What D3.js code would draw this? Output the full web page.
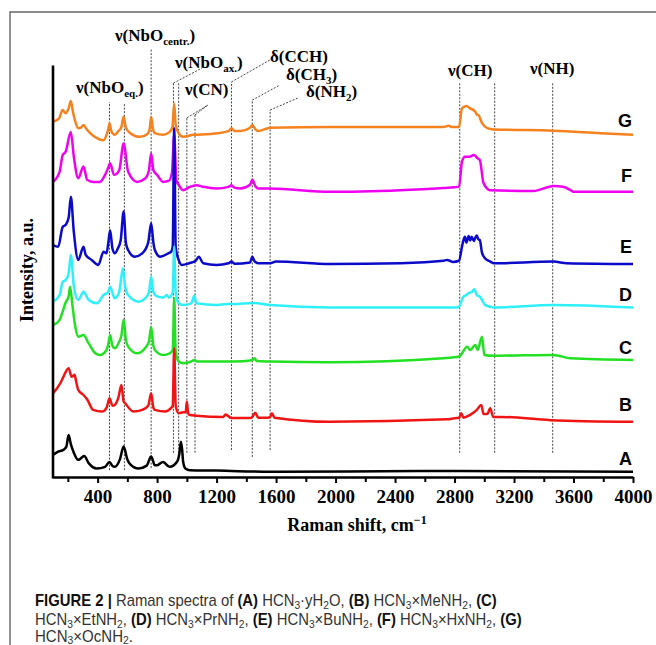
<!DOCTYPE html>
<html>
<head>
<meta charset="utf-8">
<script src="https://cdn.jsdelivr.net/npm/d3@7"></script>
<style>
    body { margin: 0; background: #fff; }
    svg { display: block; }
    .x-axis path, .x-axis line, .y-axis path { stroke: #000; }
    .x-axis .domain, .y-axis .domain { stroke-width: 2.6; }
    .x-axis .tick line { stroke-width: 2; }
    .x-axis text { font-family: "Liberation Serif", "Times New Roman", serif; font-weight: bold; font-size: 19px; fill: #000; }
    .axis-title { font-family: "Liberation Serif", "Times New Roman", serif; font-weight: bold; font-size: 18px; }
    .band-label { font-family: "Liberation Serif", "Times New Roman", serif; font-weight: bold; font-size: 17px; }
    .series-label { font-family: "Liberation Sans", Arial, sans-serif; font-weight: bold; font-size: 18px; }
    .caption { font-family: "Liberation Sans", Arial, sans-serif; font-size: 16px; fill: #333; }
</style>
</head>
<body>
<div class="raman-graph"></div>
<script>
// ---- data (Raman shift in cm-1, intensity in stacked a.u.) ----
var seriesNames = ["A", "B", "C", "D", "E", "F", "G"];

var spectrumA = [[100, 5.6], [135, 6.4], [170, 6.8], [190, 7.6], [205, 10.4], [220, 8.2], [237, 6.4], [270, 4.4], [310, 5.3], [340, 3.6],
    [395, 2.3], [450, 2.7], [480, 3.9], [500, 2.9], [515, 2.7], [550, 4.5], [575, 7.6], [600, 4.5], [620, 3.3], [675, 2.3],
    [730, 3.0], [760, 5.2], [785, 3.1], [800, 3.1], [840, 3.9], [870, 3.0], [885, 2.7], [935, 4.0], [950, 6.0], [960, 8.8],
    [968, 7.0], [975, 4.0], [990, 2.3], [1020, 1.9], [1200, 1.8], [1560, 1.5], [2600, 1.7], [4000, 1.5]];

var spectrumB = [[100, 20.5], [150, 23.0], [170, 24.5], [205, 26.6], [225, 24.5], [245, 25.0], [255, 23.5], [270, 21.3], [305, 20.1], [330, 19.0],
    [370, 16.5], [430, 16.1], [460, 17.0], [480, 19.3], [500, 17.5], [515, 17.7], [540, 19.5], [560, 22.5], [575, 18.5], [585, 18.1],
    [640, 16.1], [700, 16.5], [740, 17.5], [760, 20.5], [775, 17.0], [785, 16.5], [855, 16.1], [890, 16.8], [905, 17.5], [915, 31.4],
    [925, 17.5], [945, 15.7], [975, 15.9], [992, 15.9], [1000, 18.5], [1008, 15.9], [1015, 15.3], [1065, 15.1], [1245, 14.8], [1260, 15.4],
    [1300, 14.5], [1425, 14.5], [1440, 14.8], [1460, 15.8], [1480, 14.6], [1545, 14.6], [1560, 14.8], [1572, 15.7], [1590, 14.6], [1965, 13.6],
    [2750, 14.2], [2815, 14.5], [2830, 14.5], [2845, 15.7], [2860, 14.6], [2905, 15.3], [2950, 16.5], [2980, 17.7], [2995, 15.5], [3020, 15.5],
    [3040, 16.9], [3060, 14.8], [3110, 14.8], [3445, 14.0], [4000, 13.6]];

var spectrumC = [[100, 37.0], [145, 38.3], [165, 40.3], [185, 42.5], [205, 44.0], [215, 46.3], [230, 42.0], [250, 36.6], [270, 34.2], [305, 34.6],
    [340, 32.6], [385, 30.2], [415, 29.8], [460, 31.0], [472, 32.5], [484, 34.6], [500, 32.0], [517, 31.4], [545, 33.0], [560, 34.5],
    [575, 38.3], [590, 33.5], [605, 31.8], [665, 30.2], [720, 31.5], [745, 33.0], [760, 36.6], [775, 32.0], [785, 31.0], [840, 29.8],
    [885, 30.2], [905, 31.0], [915, 43.6], [925, 30.5], [945, 28.2], [975, 27.8], [1030, 28.2], [1050, 28.6], [1070, 28.2], [1200, 28.2],
    [1315, 28.2], [1440, 28.5], [1455, 29.0], [1470, 28.3], [1560, 28.2], [1965, 28.0], [2725, 29.0], [2830, 29.4], [2885, 31.8], [2905, 31.0],
    [2940, 32.2], [2955, 31.0], [2985, 34.2], [3000, 29.8], [3065, 29.6], [3465, 29.8], [3580, 29.0], [4000, 28.6]];

var spectrumD = [[100, 42.7], [145, 44.3], [165, 47.5], [185, 47.9], [205, 49.5], [220, 54.0], [240, 46.5], [270, 43.1], [305, 45.1], [340, 43.1],
    [395, 42.3], [440, 44.3], [470, 45.0], [484, 46.3], [515, 43.5], [545, 45.0], [570, 50.8], [585, 46.5], [605, 44.3], [675, 42.7],
    [720, 43.5], [745, 45.0], [760, 48.7], [775, 45.0], [793, 44.1], [840, 43.7], [865, 44.3], [880, 43.7], [905, 45.0], [915, 56.0],
    [925, 45.0], [945, 42.3], [975, 41.9], [1030, 42.3], [1050, 44.1], [1065, 42.3], [1200, 41.9], [1300, 42.2], [1315, 42.1], [1440, 42.4],
    [1560, 41.9], [1965, 41.3], [2435, 41.3], [2815, 41.3], [2830, 41.5], [2860, 43.9], [2880, 44.3], [2895, 44.8], [2915, 45.0], [2933, 45.7],
    [2950, 44.3], [2970, 43.9], [2985, 43.1], [3005, 41.9], [3065, 41.3], [3465, 41.9], [4000, 41.3]];

var spectrumE = [[100, 56.4], [135, 56.0], [165, 60.8], [185, 61.3], [205, 63.0], [220, 68.1], [240, 59.6], [270, 52.8], [305, 56.0], [320, 54.0],
    [360, 52.8], [405, 51.6], [440, 54.8], [460, 54.4], [472, 57.0], [484, 60.0], [500, 55.5], [515, 54.4], [535, 55.5], [555, 57.5],
    [575, 64.5], [590, 57.0], [605, 55.2], [650, 53.6], [700, 54.4], [740, 57.0], [760, 61.7], [775, 57.0], [785, 55.2], [820, 53.6],
    [875, 54.4], [895, 54.8], [905, 56.0], [915, 84.7], [925, 56.0], [945, 52.8], [965, 51.6], [1015, 52.0], [1060, 52.6], [1080, 53.6],
    [1110, 52.0], [1200, 51.6], [1280, 52.0], [1300, 52.4], [1320, 51.9], [1425, 52.2], [1440, 53.6], [1455, 52.5], [1480, 52.0], [1560, 52.0],
    [1600, 52.4], [1965, 51.8], [2435, 52.0], [2725, 52.6], [2750, 52.8], [2790, 52.3], [2830, 52.6], [2850, 56.0], [2860, 57.6], [2870, 58.4],
    [2880, 57.0], [2895, 58.6], [2905, 57.5], [2915, 58.4], [2930, 57.4], [2940, 58.2], [2950, 58.7], [2960, 57.8], [2970, 57.6], [2985, 54.5],
    [3005, 53.2], [3040, 52.4], [3065, 52.0], [3465, 52.4], [3555, 52.0], [4000, 51.8]];

var spectrumF = [[100, 71.7], [145, 74.2], [165, 78.2], [185, 79.0], [220, 83.8], [240, 77.8], [270, 72.6], [305, 75.4], [330, 72.2], [370, 71.7],
    [415, 71.7], [450, 73.4], [470, 75.0], [484, 76.2], [510, 73.4], [545, 74.5], [575, 81.0], [605, 74.2], [665, 71.7], [720, 72.5],
    [745, 74.5], [760, 78.6], [775, 74.5], [800, 73.4], [840, 71.7], [880, 72.0], [900, 74.0], [915, 83.1], [930, 72.0], [945, 71.0],
    [975, 69.7], [1020, 70.5], [1065, 70.9], [1110, 70.5], [1200, 70.1], [1280, 70.5], [1300, 70.9], [1320, 70.3], [1360, 70.1], [1425, 71.0],
    [1440, 72.2], [1460, 70.7], [1480, 70.1], [1560, 70.1], [1965, 69.3], [2435, 69.7], [2725, 70.2], [2830, 70.5], [2850, 76.6], [2870, 77.8],
    [2900, 77.8], [2930, 78.2], [2955, 77.4], [2970, 77.0], [2995, 71.4], [3040, 69.7], [3330, 69.5], [3445, 70.6], [3465, 70.7], [3530, 70.5],
    [3580, 69.7], [3600, 69.3], [4000, 69.3]];

var spectrumG = [[100, 86.3], [140, 87.0], [165, 89.1], [185, 88.3], [205, 89.5], [220, 91.3], [235, 88.5], [250, 86.3], [270, 84.7], [290, 84.9],
    [305, 85.5], [325, 84.5], [350, 83.5], [395, 82.3], [440, 81.8], [460, 83.1], [472, 84.5], [480, 85.9], [492, 84.0], [515, 83.1],
    [535, 83.8], [560, 85.0], [575, 87.5], [590, 84.8], [620, 83.5], [685, 82.6], [735, 83.3], [750, 84.5], [760, 87.5], [772, 84.5],
    [785, 83.5], [840, 83.1], [885, 83.8], [903, 85.0], [915, 90.7], [925, 85.5], [945, 83.5], [975, 82.6], [1045, 83.1], [1155, 83.3],
    [1280, 84.0], [1300, 84.7], [1320, 84.0], [1360, 84.0], [1425, 84.8], [1440, 85.5], [1460, 84.5], [1480, 84.0], [1560, 84.8], [1965, 85.0],
    [2435, 85.0], [2725, 85.0], [2760, 85.3], [2780, 85.0], [2830, 85.0], [2850, 89.5], [2880, 90.1], [2905, 89.5], [2940, 88.7], [2950, 88.0],
    [2960, 87.9], [2985, 85.9], [3020, 84.7], [3065, 84.4], [3465, 84.1], [3780, 83.5], [4000, 83.1]];

var spectra = [spectrumA, spectrumB, spectrumC, spectrumD, spectrumE, spectrumF, spectrumG];

// x axis ticks
var xTicks = [400, 800, 1200, 1600, 2000, 2400, 2800, 3200, 3600, 4000];
var xMinorTicks = [200, 600, 1000, 1400, 1800, 2200, 2600, 3000, 3400, 3800];

// band positions (cm-1) marked with dotted lines, and how far each line runs (a.u.)
var bands = [480, 580, 760, 910, 945, 1000, 1055, 1300, 1440, 1560, 2835, 3070, 3460];
var bandLow = [1.9, 1.9, 2.4, 6.1, 6.1, 6.1, 6.1, 6.8, 5.1, 6.8, 6.1, 6.1, 6.1];
var bandHigh = [91.0, 90.8, 104.1, 95.6, 95.6, 87.2, 87.9, 95.9, 91.5, 89.1, 95.9, 95.9, 95.9];

// ---- styles / layout ----
var seriesColors = ["#000000", "#f01414", "#22e022", "#2ef0fa", "#0a0ac8", "#f000f0", "#f5821f"];
var labelY = [459, 405, 348, 295, 247, 176, 121];

var W = 656, H = 645;
var plot = {left: 53, right: 633, top: 65, bottom: 478};

var svg = d3.select(".raman-graph").append("svg")
    .attr("width", W)
    .attr("height", H);

// figure frame (left and top rules)
svg.append("path")
    .attr("d", "M10,645V12H656")
    .attr("fill", "none")
    .attr("stroke", "#666")
    .attr("stroke-width", 1.4);

// scales
var x = d3.scaleLinear().domain([100, 4000]).range([plot.left, plot.right]);
var y = d3.scaleLinear().domain([0, 100]).range([plot.bottom, plot.top]);

// dotted band lines
svg.append("g").selectAll("line")
    .data(bands)
    .enter().append("line")
    .attr("x1", function (d) { return x(d); })
    .attr("x2", function (d) { return x(d); })
    .attr("y1", function (d, i) { return y(bandLow[i]); })
    .attr("y2", function (d, i) { return y(bandHigh[i]); })
    .attr("stroke", "#444")
    .attr("stroke-width", 1)
    .attr("stroke-dasharray", "2,1.5");

// leader lines from band tops to their labels
var leaders = [
    {band: 3, to: [202, 68]},
    {band: 5, to: [208, 105]},
    {band: 6, to: [208, 105]},
    {band: 7, to: [270, 60]},
    {band: 8, to: [280, 85]},
    {band: 9, to: [298, 98]}
];
svg.append("g").selectAll("line")
    .data(leaders)
    .enter().append("line")
    .attr("x1", function (d) { return x(bands[d.band]); })
    .attr("y1", function (d) { return y(bandHigh[d.band]); })
    .attr("x2", function (d) { return d.to[0]; })
    .attr("y2", function (d) { return d.to[1]; })
    .attr("stroke", "#444")
    .attr("stroke-width", 1)
    .attr("stroke-dasharray", "2,1.5");

// spectra, top one first so lower traces sit on top
var line = d3.line()
    .curve(d3.curveMonotoneX)
    .x(function (d) { return x(d[0]); })
    .y(function (d) { return y(d[1]); });

var order = [6, 5, 4, 3, 2, 1, 0];
svg.append("g").selectAll("path")
    .data(order)
    .enter().append("path")
    .attr("d", function (i) { return line(spectra[i]); })
    .attr("fill", "none")
    .attr("stroke", function (i) { return seriesColors[i]; })
    .attr("stroke-width", 2.5)
    .attr("stroke-linejoin", "round");

// series letters
svg.append("g").selectAll("text")
    .data(seriesNames)
    .enter().append("text")
    .attr("class", "series-label")
    .attr("x", 632)
    .attr("y", function (d, i) { return labelY[i]; })
    .attr("dy", "0.36em")
    .attr("text-anchor", "end")
    .text(function (d) { return d; });

// x axis (major + minor ticks)
svg.append("g")
    .attr("class", "x-axis")
    .attr("transform", "translate(0," + 477 + ")")
    .call(d3.axisBottom(x)
        .tickValues(xTicks)
        .tickSize(6)
        .tickSizeOuter(0)
        .tickPadding(7)
        .tickFormat(d3.format("d")));

svg.append("g")
    .attr("class", "x-axis")
    .attr("transform", "translate(0," + 477 + ")")
    .call(d3.axisBottom(x)
        .tickValues(xMinorTicks)
        .tickSize(5)
        .tickSizeOuter(0)
        .tickFormat(""))
    .select(".domain").remove();

// y axis is only a bare line
svg.append("g")
    .attr("class", "y-axis")
    .attr("transform", "translate(" + 52.5 + ",0)")
    .call(d3.axisLeft(y).tickValues([]).tickSizeOuter(0));

// rich text helper: parts are [text, style] with style "b", "s" (sub), "p" (sup) or ""
function richText(sel, parts, smallSize, shift) {
    var off = 0;
    parts.forEach(function (p) {
        var ts = sel.append("tspan").text(p[0]);
        var want = p[1] === "s" ? shift : (p[1] === "p" ? -shift * 1.6 : 0);
        if (want !== off) {
            ts.attr("dy", want - off);
            off = want;
        }
        if (p[1] === "s" || p[1] === "p") ts.style("font-size", smallSize);
        if (p[1] === "b") ts.style("font-weight", "bold").style("fill", "#111");
    });
}

// axis titles
var xTitle = svg.append("text")
    .attr("class", "axis-title")
    .attr("x", 357)
    .attr("y", 531)
    .attr("text-anchor", "middle");
richText(xTitle, [["Raman shift, cm", ""], ["\u22121", "p"]], "12px", 4.5);

svg.append("text")
    .attr("class", "axis-title")
    .attr("transform", "translate(33,270) rotate(-90)")
    .attr("text-anchor", "middle")
    .text("Intensity, a.u.");

// band labels
var bandLabels = [
    {parts: [["\u03bd(NbO", ""], ["eq.", "s"], [")", ""]], x: 76, y: 93},
    {parts: [["\u03bd(NbO", ""], ["centr.", "s"], [")", ""]], x: 115, y: 41},
    {parts: [["\u03bd(NbO", ""], ["ax.", "s"], [")", ""]], x: 175, y: 68},
    {parts: [["\u03bd(CN)", ""]], x: 185, y: 95},
    {parts: [["\u03b4(CCH)", ""]], x: 270, y: 62},
    {parts: [["\u03b4(CH", ""], ["3", "s"], [")", ""]], x: 286, y: 80},
    {parts: [["\u03b4(NH", ""], ["2", "s"], [")", ""]], x: 306, y: 97},
    {parts: [["\u03bd(CH)", ""]], x: 448, y: 76},
    {parts: [["\u03bd(NH)", ""]], x: 530, y: 74}
];
bandLabels.forEach(function (b) {
    var t = svg.append("text")
        .attr("class", "band-label")
        .attr("x", b.x)
        .attr("y", b.y);
    richText(t, b.parts, "11px", 4);
});

// caption, squeezed to the width of the original condensed face
var captionLines = [
    {parts: [["FIGURE 2 |", "b"], [" Raman spectra of ", ""], ["(A)", "b"], [" HCN", ""], ["3", "s"], ["\u00b7yH", ""], ["2", "s"], ["O, ", ""],
        ["(B)", "b"], [" HCN", ""], ["3", "s"], ["\u00d7MeNH", ""], ["2", "s"], [", ", ""], ["(C)", "b"]], y: 606, w: 462},
    {parts: [["HCN", ""], ["3", "s"], ["\u00d7EtNH", ""], ["2", "s"], [", ", ""], ["(D)", "b"], [" HCN", ""], ["3", "s"], ["\u00d7PrNH", ""], ["2", "s"], [", ", ""],
        ["(E)", "b"], [" HCN", ""], ["3", "s"], ["\u00d7BuNH", ""], ["2", "s"], [", ", ""], ["(F)", "b"], [" HCN", ""], ["3", "s"], ["\u00d7HxNH", ""], ["2", "s"], [", ", ""],
        ["(G)", "b"]], y: 625, w: 487},
    {parts: [["HCN", ""], ["3", "s"], ["\u00d7OcNH", ""], ["2", "s"], [".", ""]], y: 641.5, w: 98}
];
captionLines.forEach(function (c) {
    var t = svg.append("text")
        .attr("class", "caption")
        .attr("x", 0)
        .attr("y", 0);
    richText(t, c.parts, "11px", 2.5);
    var len = t.node().getComputedTextLength();
    t.attr("transform", "translate(35," + c.y + ") scale(" + (c.w / len) + ",1)");
});
</script>
</body>
</html>
